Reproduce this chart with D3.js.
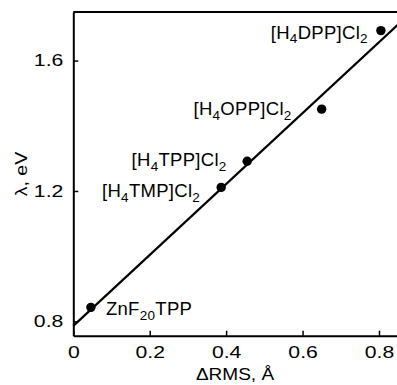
<!DOCTYPE html>
<html><head><meta charset="utf-8">
<script src="https://cdn.jsdelivr.net/npm/d3@7"></script>
<style>body{margin:0;background:#fff;} text{font-family:"Liberation Sans",Arial,sans-serif;fill:#000;}</style>
</head><body>
<svg id="c" width="397" height="385"></svg>
<script>
const compounds = ["ZnF20TPP","[H4TMP]Cl2","[H4TPP]Cl2","[H4OPP]Cl2","[H4DPP]Cl2"];
const dRMS = [0.046, 0.387, 0.455, 0.650, 0.805];
const lambda = [0.843, 1.211, 1.291, 1.451, 1.692];
const fitIntercept = 0.786;
const fitSlope = 1.088;
const xTicks = [0, 0.2, 0.4, 0.6, 0.8];
const yTicks = [0.8, 1.2, 1.6];
// label pieces: [text, isSub]
const labelParts = [
  [["ZnF",0],["20",1],["TPP",0]],
  [["[H",0],["4",1],["TMP]Cl",0],["2",1]],
  [["[H",0],["4",1],["TPP]Cl",0],["2",1]],
  [["[H",0],["4",1],["OPP]Cl",0],["2",1]],
  [["[H",0],["4",1],["DPP]Cl",0],["2",1]]
];
const labelSide = ["right","left","left","left","left"];

const svg = d3.select("#c");
const L=73.3, R=400, T=12, B=335.7;
const x = d3.scaleLinear().domain([0,0.855]).range([L,R]);
const y = d3.scaleLinear().domain([0.756,1.749]).range([B,T]);
const SX = 1.3;

const xa = svg.append("g").attr("transform",`translate(0,${B})`)
  .call(d3.axisBottom(x).tickValues(xTicks).tickFormat(d=>d===0?"0":d3.format(".1f")(d)).tickSizeInner(-5).tickSizeOuter(0).tickPadding(11));
const ya = svg.append("g").attr("transform",`translate(${L},0)`)
  .call(d3.axisLeft(y).tickValues(yTicks).tickFormat(d3.format(".1f")).tickSizeInner(-5).tickSizeOuter(0).tickPadding(10));
[xa,ya].forEach(a=>{
  a.selectAll("path").attr("stroke","#000").attr("stroke-width",2);
  a.selectAll("line").attr("stroke","#000").attr("stroke-width",1.5);
  a.selectAll("text").attr("font-size",16.3).attr("font-family","Liberation Sans, Arial, sans-serif").attr("fill","#000")
    .attr("transform",`scale(${SX},1)`);
});
ya.selectAll("text").attr("x",-10/SX);

// top border
svg.append("line").attr("x1",L).attr("x2",R).attr("y1",T).attr("y2",T).attr("stroke","#000").attr("stroke-width",2);

// fit line
const x0=0, x1=0.855;
svg.append("line")
  .attr("x1",x(x0)).attr("y1",y(fitIntercept+fitSlope*x0))
  .attr("x2",x(x1)).attr("y2",y(fitIntercept+fitSlope*x1))
  .attr("stroke","#000").attr("stroke-width",2.2);

svg.selectAll("circle.pt").data(dRMS).enter().append("circle")
  .attr("cx",(d)=>x(d)).attr("cy",(d,i)=>y(lambda[i])).attr("r",4.7).attr("fill","#000");

const offsets = [[15,8],[-21,10],[-20.5,5],[-30,6],[-13,8]];
compounds.forEach((c,i)=>{
  const t = svg.append("text")
    .attr("x", x(dRMS[i])+offsets[i][0])
    .attr("y", y(lambda[i])+offsets[i][1])
    .attr("font-size",18.5)
    .attr("letter-spacing",0.3)
    .attr("text-anchor", labelSide[i]==="right"?"start":"end");
  labelParts[i].forEach(([s,sub],k)=>{
    const ts = t.append("tspan").text(s);
    if(sub){ ts.attr("font-size",13.5).attr("dy",4.5); }
    else if(k>0 && labelParts[i][k-1][1]){ ts.attr("dy",-4.5); }
  });
});

svg.append("text").attr("transform","translate(27,174) rotate(-90) scale(1.15,1)").attr("text-anchor","middle")
  .attr("font-size",17).text("λ, eV");
svg.append("text").attr("transform","translate(235,380) scale(1.12,1)").attr("text-anchor","middle")
  .attr("font-size",17).text("ΔRMS, Å");
</script>
</body></html>
